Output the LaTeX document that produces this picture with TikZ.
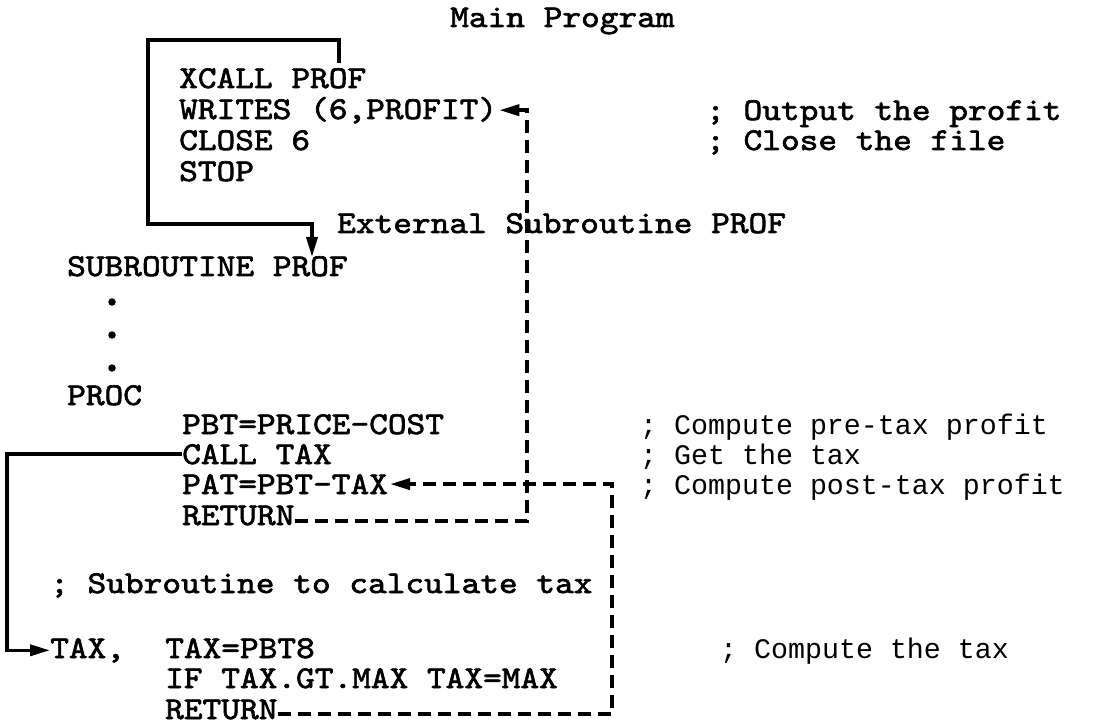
\documentclass[tikz,border=0pt]{standalone}
\usepackage{fontspec}
\usetikzlibrary{arrows.meta, calc}
\newfontfamily\codefont{lmmono10-regular.otf}[FakeStretch=1.12, FakeBold=2]
\newfontfamily\notefont{Liberation Mono}

\begin{document}
\begin{tikzpicture}[
  x=1pt, y=-1pt,
  >={Triangle[length=20pt, width=11pt]},
  code/.style={anchor=base west, inner sep=0pt,
               font=\codefont\fontsize{31.8}{31.8}\selectfont},
  remark/.style={anchor=base west, inner sep=0pt,
                 font=\notefont\fontsize{28.3}{28.3}\selectfont},
  dot/.style={circle, fill=black, inner sep=0pt, minimum size=7.5pt},
  flow/.style={->, line width=3.6pt},
  back/.style={->, line width=3.6pt, dash pattern=on 13pt off 7pt,
               shorten >=2pt},
]
\useasboundingbox (0,0) rectangle (1102,727);

% ====================== main program ===================================
\node[code] (mainlbl) at (450,27) {Main Program};
\node[code] (xcall) at (179,88) {XCALL PROF};
\node[code] (writes) at (179,119) {WRITES (6,PROFIT)};
\node[code] (close) at (179,150) {CLOSE 6};
\node[code] (stop) at (179,181) {STOP};
\node[code] (cmout) at (706,120) {; Output the profit};
\node[code] (cmclose) at (706,150) {; Close the file};

% ====================== external subroutine ============================
\node[code] (extlbl) at (337,233) {External Subroutine PROF};
\node[code] (subprof) at (67,276) {SUBROUTINE PROF};
\node[dot] (d1) at (112,302) {};
\node[dot] (d2) at (112,335) {};
\node[dot] (d3) at (112,368) {};
\node[code] (proc) at (67,405) {PROC};
\node[code] (pbt) at (182,434) {PBT=PRICE-COST};
\node[code] (calltax) at (182,464) {CALL TAX};
\node[code] (pat) at (182,494) {PAT=PBT-TAX};
\node[code] (ret1) at (182,525) {RETURN};
\node[remark] (cmpre) at (640,434) {; Compute pre-tax profit};
\node[remark] (cmget) at (640,464) {; Get the tax};
\node[remark] (cmpost) at (640,494) {; Compute post-tax profit};

% ====================== tax subroutine =================================
\node[code] (subcm) at (50,593) {; Subroutine to calculate tax};
\node[code] (taxlbl) at (50,658) {TAX,};
\node[code] (taxeq) at (165,658) {TAX=PBT8};
\node[code] (iftax) at (165,688) {IF TAX.GT.MAX TAX=MAX};
\node[code] (ret2) at (165,719) {RETURN};
\node[remark] (cmtax) at (720,658) {; Compute the tax};

% ====================== calls and returns ==============================
\coordinate (tick) at (339,63);
\coordinate (boxtl) at (148,40);
\coordinate (boxbl) at (148,224);
\coordinate (into) at (312,257);
\coordinate (bendL) at (7,0);
\coordinate (rise1) at (527,0);
\coordinate (rise2) at (612,0);

\draw[flow] (tick) |- (boxtl) -- (boxbl) -| (into);
\draw[flow] (calltax.west) -| (bendL |- taxlbl.west) -- (taxlbl.west);
\draw[back] ([yshift=4pt]ret1.base east) -- ([yshift=4pt]ret1.base east -| rise1)
  -- (writes.east -| rise1) -- (writes.east);
\draw[back] ([yshift=5pt]ret2.base east) -- ([yshift=5pt]ret2.base east -| rise2)
  -- (pat.east -| rise2) -- (pat.east);

\end{tikzpicture}
\end{document}
